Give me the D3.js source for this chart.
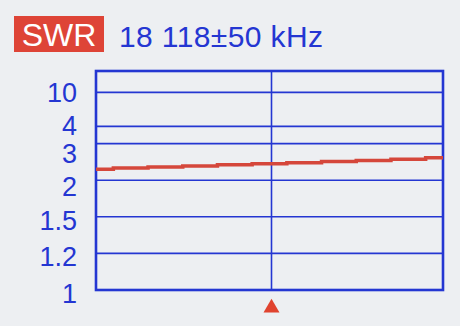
<!DOCTYPE html>
<html>
<head>
  <script src="https://d3js.org/d3.v7.min.js"></script>
  <style>
  body { margin: 0; background: #edeff2; }
  text { font-family: "Liberation Sans", Arial, sans-serif; }
  </style>
</head>
<body>
  <script>
  var w = 460;
  var h = 326;

  //Header texts
  var modeLabel = "SWR";
  var rangeLabel = "18 118\u00b150 kHz";

  //Sweep: centre frequency and span in kHz
  var centreFreq = 18118;
  var halfSpan = 50;

  //Grid levels of the SWR axis and their labels
  var swrTicks = [1, 1.2, 1.5, 2, 3, 4, 10];
  var swrTickLabels = ["1", "1.2", "1.5", "2", "3", "4", "10"];
  //Position of each level counted in grid steps from the bottom
  var swrSteps = [0, 1, 2, 3, 4, 4.47, 5.4];

  //Measured points across the sweep
  var freqs = [18068, 18078, 18088, 18098, 18108, 18118, 18128, 18138, 18148, 18158, 18168];
  var swrValues = [2.30, 2.33, 2.36, 2.39, 2.42, 2.45, 2.48, 2.51, 2.54, 2.57, 2.61];

  var blue = "#2436d2";
  var red = "#d5473b";

  var plot = {left: 96, right: 443, top: 71, bottom: 290};
  var step = 36.6;
  //The analyser spreads its labels a little apart from the grid lines
  var labelNudge = [3, 3, 3, 6, 9, -1, 0];

  var svg = d3.select("body")
    .append("svg")
    .attr("width", w)
    .attr("height", h);

  var x = d3.scaleLinear()
    .domain([centreFreq - halfSpan, centreFreq + halfSpan])
    .range([plot.left, plot.right]);

  //Piecewise scale, the analyser spaces its levels unevenly
  var y = d3.scaleLinear()
    .domain(swrTicks)
    .range(swrSteps.map(function(s){ return plot.bottom - s * step; }));

  //Header
  var badge = svg.append("g");
  badge.append("rect")
    .attr("x", 14)
    .attr("y", 16)
    .attr("width", 90)
    .attr("height", 36)
    .attr("fill", "#de4437");
  badge.append("text")
    .attr("x", 59)
    .attr("y", 46)
    .attr("text-anchor", "middle")
    .attr("fill", "#ffffff")
    .style("font-size", "32px")
    .text(modeLabel);

  svg.append("text")
    .attr("x", 119)
    .attr("y", 47)
    .attr("fill", blue)
    .style("font-size", "30px")
    .attr("textLength", 204)
    .text(rangeLabel);

  //Horizontal grid lines
  svg.append("g")
    .selectAll("line")
    .data(swrTicks.slice(1))
    .enter()
    .append("line")
      .attr("x1", plot.left)
      .attr("x2", plot.right)
      .attr("y1", function(d){ return y(d); })
      .attr("y2", function(d){ return y(d); })
      .attr("stroke", blue)
      .attr("stroke-width", 1.6);

  //Centre line
  svg.append("line")
    .attr("x1", x(centreFreq) + 2)
    .attr("x2", x(centreFreq) + 2)
    .attr("y1", plot.top)
    .attr("y2", plot.bottom)
    .attr("stroke", blue)
    .attr("stroke-width", 1.6);

  //Frame
  svg.append("rect")
    .attr("x", plot.left)
    .attr("y", plot.top)
    .attr("width", plot.right - plot.left)
    .attr("height", plot.bottom - plot.top)
    .attr("fill", "none")
    .attr("stroke", blue)
    .attr("stroke-width", 2.6);

  //Tick labels
  svg.append("g")
    .selectAll("text")
    .data(swrTicks)
    .enter()
    .append("text")
      .attr("x", 77)
      .attr("y", function(d, i){ return y(d) + labelNudge[i] + 10; })
      .attr("text-anchor", "end")
      .attr("fill", blue)
      .style("font-size", "27px")
      .text(function(d, i){ return swrTickLabels[i]; });

  //SWR trace
  var line = d3.line()
    .x(function(d, i){ return x(freqs[i]); })
    .y(function(d){ return y(d); })
    .curve(d3.curveStep);

  svg.append("path")
    .datum(swrValues)
    .attr("d", line)
    .attr("fill", "none")
    .attr("stroke", red)
    .attr("stroke-width", 3.5);

  //Marker under the centre frequency
  svg.append("path")
    .attr("d", d3.symbol().type(d3.symbolTriangle).size(110))
    .attr("transform", "translate(" + (x(centreFreq) + 2) + "," + 308 + ")")
    .attr("fill", "#e0432f");
  </script>
</body>
</html>
